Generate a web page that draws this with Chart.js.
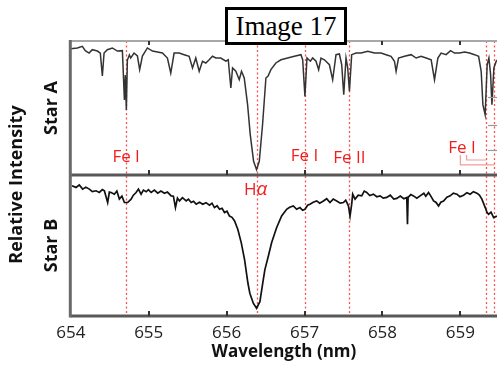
<!DOCTYPE html>
<html>
<head>
<meta charset="utf-8">
<script src="https://cdn.jsdelivr.net/npm/chart.js@4/dist/chart.umd.min.js"></script>
<style>
  html, body { margin: 0; padding: 0; background: #fff; }
  #wrap { position: relative; width: 497px; height: 369px; overflow: hidden; }
  #spectra { position: absolute; left: 0; top: 0; }
  #tag {
    position: absolute; left: 225px; top: 7px; width: 116px; height: 32px;
    border: 3px solid #000; background: #fff;
    font: 27px "Liberation Serif", serif; line-height: 32px; text-align: center; color: #000;
  }
</style>
</head>
<body>
<div id="wrap">
  <canvas id="spectra" width="497" height="369"></canvas>
  <div id="tag">Image 17</div>
</div>
<script>
// spectra.js

// wavelength ticks (nm)
const xTicks = [654, 655, 656, 657, 658, 659];

// Star A, relative intensity
const starAWave = [
  654.000, 654.084, 654.148, 654.186, 654.234, 654.276, 654.341, 654.379, 654.405, 654.427,
  654.469, 654.533, 654.598, 654.662, 654.688, 654.700, 654.713, 654.726, 654.752, 654.769,
  654.812, 654.855, 654.884, 654.919, 654.983, 655.048, 655.112, 655.176, 655.240, 655.283,
  655.326, 655.391, 655.455, 655.519, 655.562, 655.604, 655.648, 655.690, 655.733, 655.776,
  655.819, 655.861, 655.925, 655.990, 656.021, 656.054, 656.076, 656.118, 656.162, 656.191,
  656.226, 656.269, 656.303, 656.346, 656.384, 656.419, 656.461, 656.504, 656.532, 656.568,
  656.632, 656.697, 656.783, 656.869, 656.954, 656.976, 657.005, 657.031, 657.075, 657.104,
  657.147, 657.181, 657.211, 657.254, 657.319, 657.361, 657.404, 657.447, 657.477, 657.503,
  657.532, 657.554, 657.576, 657.605, 657.661, 657.725, 657.811, 657.897, 657.982, 658.046,
  658.110, 658.154, 658.175, 658.206, 658.283, 658.368, 658.432, 658.496, 658.560, 658.625,
  658.668, 658.711, 658.753, 658.817, 658.874, 658.925, 658.989, 659.054, 659.118, 659.182,
  659.234, 659.267, 659.289, 659.318, 659.344, 659.366, 659.388, 659.405, 659.430, 659.460,
  659.475
];
const starAFlux = [
  0.943, 0.948, 0.960, 0.928, 0.910, 0.935, 0.925, 0.910, 0.739, 0.910,
  0.935, 0.948, 0.925, 0.928, 0.560, 0.746, 0.485, 0.858, 0.896, 0.873,
  0.910, 0.888, 0.786, 0.888, 0.948, 0.925, 0.918, 0.910, 0.873, 0.761,
  0.910, 0.910, 0.898, 0.886, 0.799, 0.873, 0.774, 0.849, 0.836, 0.860,
  0.886, 0.873, 0.873, 0.849, 0.860, 0.649, 0.799, 0.774, 0.711, 0.774,
  0.724, 0.525, 0.301, 0.102, 0.040, 0.102, 0.375, 0.724, 0.739, 0.786,
  0.836, 0.860, 0.873, 0.886, 0.898, 0.860, 0.587, 0.873, 0.849, 0.873,
  0.849, 0.786, 0.873, 0.860, 0.823, 0.711, 0.898, 0.903, 0.823, 0.599,
  0.873, 0.799, 0.625, 0.898, 0.910, 0.910, 0.923, 0.910, 0.910, 0.898,
  0.886, 0.849, 0.774, 0.873, 0.886, 0.898, 0.873, 0.886, 0.873, 0.860,
  0.711, 0.873, 0.910, 0.898, 0.928, 0.910, 0.910, 0.918, 0.910, 0.898,
  0.886, 0.774, 0.525, 0.450, 0.823, 0.873, 0.749, 0.525, 0.799, 0.849,
  0.858
];

// Star B, relative intensity
const starBWave = [
  654.015, 654.067, 654.109, 654.152, 654.193, 654.238, 654.276, 654.324, 654.366, 654.405,
  654.431, 654.473, 654.495, 654.517, 654.559, 654.591, 654.623, 654.656, 654.688, 654.730,
  654.774, 654.803, 654.838, 654.868, 654.902, 654.932, 654.967, 654.996, 655.031, 655.073,
  655.116, 655.157, 655.202, 655.240, 655.288, 655.317, 655.343, 655.369, 655.395, 655.433,
  655.481, 655.510, 655.545, 655.575, 655.609, 655.652, 655.694, 655.735, 655.780, 655.812,
  655.844, 655.877, 655.909, 655.941, 655.973, 656.005, 656.037, 656.069, 656.102, 656.144,
  656.188, 656.230, 656.273, 656.298, 656.342, 656.384, 656.427, 656.470, 656.491, 656.535,
  656.577, 656.641, 656.706, 656.770, 656.809, 656.856, 656.899, 656.941, 656.976, 657.005,
  657.040, 657.069, 657.111, 657.156, 657.194, 657.242, 657.284, 657.326, 657.368, 657.413,
  657.458, 657.499, 657.528, 657.563, 657.584, 657.605, 657.618, 657.648, 657.689, 657.734,
  657.766, 657.798, 657.837, 657.884, 657.927, 657.969, 658.010, 658.055, 658.100, 658.145,
  658.184, 658.229, 658.274, 658.312, 658.321, 658.329, 658.364, 658.398, 658.441, 658.483,
  658.531, 658.556, 658.591, 658.621, 658.656, 658.685, 658.720, 658.749, 658.784, 658.827,
  658.869, 658.910, 658.955, 658.994, 659.041, 659.084, 659.126, 659.167, 659.212, 659.244,
  659.276, 659.319, 659.341, 659.363, 659.393, 659.427, 659.469
];
const starBFlux = [
  0.924, 0.912, 0.929, 0.900, 0.914, 0.900, 0.882, 0.888, 0.876, 0.896,
  0.888, 0.805, 0.879, 0.876, 0.864, 0.886, 0.829, 0.850, 0.805, 0.805,
  0.829, 0.857, 0.876, 0.900, 0.864, 0.893, 0.881, 0.896, 0.876, 0.893,
  0.871, 0.886, 0.871, 0.879, 0.852, 0.850, 0.769, 0.836, 0.816, 0.839,
  0.816, 0.829, 0.805, 0.814, 0.793, 0.807, 0.793, 0.804, 0.786, 0.800,
  0.769, 0.782, 0.757, 0.764, 0.734, 0.743, 0.709, 0.700, 0.674, 0.614,
  0.519, 0.400, 0.234, 0.162, 0.091, 0.055, 0.102, 0.257, 0.329, 0.424,
  0.519, 0.626, 0.709, 0.757, 0.771, 0.781, 0.757, 0.769, 0.750, 0.757,
  0.786, 0.793, 0.807, 0.816, 0.800, 0.816, 0.832, 0.805, 0.829, 0.816,
  0.800, 0.805, 0.821, 0.781, 0.709, 0.793, 0.864, 0.829, 0.857, 0.852,
  0.886, 0.876, 0.854, 0.864, 0.846, 0.852, 0.836, 0.841, 0.857, 0.829,
  0.834, 0.850, 0.832, 0.841, 0.650, 0.841, 0.861, 0.852, 0.836, 0.852,
  0.871, 0.850, 0.876, 0.850, 0.816, 0.807, 0.781, 0.807, 0.816, 0.843,
  0.852, 0.871, 0.864, 0.846, 0.857, 0.875, 0.864, 0.882, 0.871, 0.857,
  0.829, 0.769, 0.736, 0.721, 0.736, 0.698, 0.709
];

// line identifications (nm)
const lineWaves = [654.710, 656.384, 657.000, 657.574, 659.334, 659.432];
const lineNames = ['Fe I', 'H\u03b1', 'Fe I', 'Fe II', 'Fe I'];

const sans = "'Open Sans', sans-serif";
const red = '#f21d1d';

function toPoints(xs, ys) {
    return xs.map((w, i) => ({ x: w, y: ys[i] }));
}

// frame, ticks, dotted line markers and their labels
const decor = {
    id: 'decor',
    beforeDatasetsDraw(chart) {
        const { ctx, chartArea, scales } = chart;
        ctx.save();
        ctx.strokeStyle = '#ff5050';
        ctx.lineWidth = 1.3;
        ctx.setLineDash([2, 2.5]);
        lineWaves.forEach(w => {
            const x = Math.round(scales.x.getPixelForValue(w)) + 0.5;
            ctx.beginPath();
            ctx.moveTo(x, chartArea.top);
            ctx.lineTo(x, chartArea.bottom + 1);
            ctx.stroke();
        });
        ctx.restore();
    },
    afterDatasetsDraw(chart) {
        const { ctx, chartArea, scales } = chart;
        const xs = scales.x, yA = scales.yA, yB = scales.yB;
        const left = chartArea.left, right = chartArea.right;
        const mid = yA.bottom;
        ctx.save();
        // top border
        ctx.strokeStyle = '#a8a8a8';
        ctx.lineWidth = 2;
        ctx.beginPath(); ctx.moveTo(left, chartArea.top); ctx.lineTo(right, chartArea.top); ctx.stroke();
        // panel divider and bottom axis
        ctx.strokeStyle = '#585858';
        ctx.lineWidth = 3;
        ctx.beginPath(); ctx.moveTo(left, mid); ctx.lineTo(right, mid); ctx.stroke();
        ctx.beginPath(); ctx.moveTo(left, chartArea.bottom); ctx.lineTo(right, chartArea.bottom); ctx.stroke();
        // left axis
        ctx.strokeStyle = '#6a6a6a';
        ctx.beginPath(); ctx.moveTo(left - 0.5, chartArea.top - 1); ctx.lineTo(left - 0.5, chartArea.bottom + 1.5); ctx.stroke();
        // tick marks
        ctx.strokeStyle = '#333';
        ctx.lineWidth = 2;
        xTicks.slice(1).forEach(v => {
            const x = Math.round(xs.getPixelForValue(v));
            ctx.beginPath(); ctx.moveTo(x, chartArea.top); ctx.lineTo(x, chartArea.top + 4); ctx.stroke();
            ctx.beginPath(); ctx.moveTo(x, mid); ctx.lineTo(x, mid - 5); ctx.stroke();
            ctx.beginPath(); ctx.moveTo(x, chartArea.bottom); ctx.lineTo(x, chartArea.bottom - 5); ctx.stroke();
        });
        // stubs of a cropped neighbouring frame at the right edge
        ctx.strokeStyle = '#9a9a9a';
        ctx.lineWidth = 1.2;
        [0.58, 0.37, 0.19].forEach(v => {
            const y = Math.round(yA.getPixelForValue(v)) + 0.5;
            ctx.beginPath(); ctx.moveTo(right - 9, y); ctx.lineTo(right, y); ctx.stroke();
        });

        // labels
        ctx.fillStyle = red;
        ctx.font = '17px ' + sans;
        ctx.textAlign = 'center';
        ctx.textBaseline = 'middle';
        ctx.fillText(lineNames[0], xs.getPixelForValue(lineWaves[0]), yA.getPixelForValue(0.13));
        ctx.fillText(lineNames[2], xs.getPixelForValue(lineWaves[2]), yA.getPixelForValue(0.14));
        ctx.fillText(lineNames[3], xs.getPixelForValue(lineWaves[3]), yA.getPixelForValue(0.125));
        ctx.fillText(lineNames[4], xs.getPixelForValue(659.02), yA.getPixelForValue(0.2));

        // H alpha: roman H, italic alpha
        const hx = xs.getPixelForValue(lineWaves[1]);
        const hy = yB.getPixelForValue(0.895);
        ctx.textAlign = 'left';
        const hw = ctx.measureText('H').width;
        ctx.font = 'italic 19px ' + sans;
        const aw = ctx.measureText('\u03b1').width;
        const x0 = hx - (hw + aw) / 2 - 1;
        ctx.font = '17px ' + sans;
        ctx.fillText('H', x0, hy);
        ctx.font = 'italic 19px ' + sans;
        ctx.fillText('\u03b1', x0 + hw, hy);

        // brackets from the right Fe I label to its two lines
        ctx.strokeStyle = '#f59a9a';
        ctx.lineWidth = 1.2;
        const b1 = xs.getPixelForValue(659.08), b2 = xs.getPixelForValue(659.0);
        const t = yA.getPixelForValue(0.15);
        ctx.beginPath();
        ctx.moveTo(b1, t); ctx.lineTo(b1, yA.getPixelForValue(0.112));
        ctx.lineTo(xs.getPixelForValue(lineWaves[4]), yA.getPixelForValue(0.112));
        ctx.stroke();
        ctx.beginPath();
        ctx.moveTo(b2, t); ctx.lineTo(b2, yA.getPixelForValue(0.075));
        ctx.lineTo(xs.getPixelForValue(lineWaves[5]), yA.getPixelForValue(0.075));
        ctx.stroke();
        ctx.restore();
    }
};

const axisTitleFont = { family: sans, size: 18, weight: 'bold' };

const ctx = document.getElementById('spectra').getContext('2d');
const spectraChart = new Chart(ctx, {
    type: 'line',
    data: {
        datasets: [{
            label: 'Star A',
            data: toPoints(starAWave, starAFlux),
            yAxisID: 'yA',
            borderColor: '#333',
            borderWidth: 1.5,
            pointRadius: 0,
            tension: 0
        }, {
            label: 'Star B',
            data: toPoints(starBWave, starBFlux),
            yAxisID: 'yB',
            borderColor: '#111',
            borderWidth: 1.7,
            pointRadius: 0,
            tension: 0
        }]
    },
    options: {
        responsive: false,
        animation: false,
        events: [],
        layout: { padding: 0 },
        plugins: {
            legend: { display: false },
            tooltip: { enabled: false },
            title: {
                display: true,
                text: 'Relative Intensity',
                position: 'left',
                color: '#111',
                font: axisTitleFont,
                padding: { top: 6, bottom: 0 }
            }
        },
        scales: {
            x: {
                type: 'linear',
                position: 'bottom',
                min: 654,
                max: 659.47,
                grid: { display: false, drawTicks: false },
                border: { display: false },
                afterBuildTicks: s => { s.ticks = xTicks.map(v => ({ value: v })); },
                ticks: { color: '#222', font: { family: sans, size: 17 }, padding: 7, maxRotation: 0 },
                title: { display: true, text: 'Wavelength (nm)', color: '#111', font: { family: sans, size: 17, weight: 'bold' }, padding: { top: 2, bottom: 7 } },
                afterFit: s => { s.height = 53; }
            },
            xTop: {
                type: 'linear',
                position: 'top',
                min: 654,
                max: 659.47,
                grid: { display: false, drawTicks: false },
                border: { display: false },
                ticks: { display: false },
                afterFit: s => { s.height = 41; }
            },
            yB: {
                type: 'linear',
                position: 'left',
                stack: 'panels',
                stackWeight: 141,
                min: 0,
                max: 1,
                grid: { display: false, drawTicks: false },
                border: { display: false },
                ticks: { display: false },
                title: { display: true, text: 'Star B', color: '#111', font: axisTitleFont, padding: { top: 13, bottom: 0 } },
                afterFit: s => { s.width = 43.2; }
            },
            yA: {
                type: 'linear',
                position: 'left',
                stack: 'panels',
                stackWeight: 134,
                min: 0,
                max: 1,
                grid: { display: false, drawTicks: false },
                border: { display: false },
                ticks: { display: false },
                title: { display: true, text: 'Star A', color: '#111', font: axisTitleFont, padding: { top: 13, bottom: 0 } },
                afterFit: s => { s.width = 43.2; }
            }
        }
    },
    plugins: [decor]
});
</script>
</body>
</html>
